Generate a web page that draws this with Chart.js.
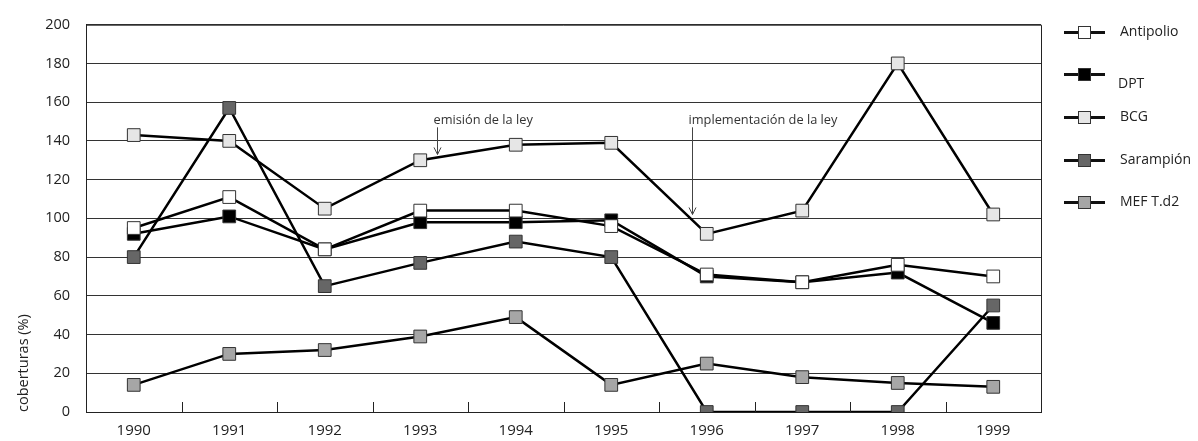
<!DOCTYPE html>
<html>
<head>
<meta charset="utf-8">
<script src="https://cdn.jsdelivr.net/npm/chart.js@4/dist/chart.umd.min.js"></script>
<style>
  body { margin: 0; background: #fff; font-family: "Open Sans", "Noto Sans", sans-serif; }
  #wrap { position: relative; width: 1198px; height: 441px; }
  #legend { position: absolute; left: 1064px; top: 0; }
  .item { position: absolute; left: 0; width: 134px; height: 20px; }
  .item .ln { position: absolute; left: 0; top: 9px; width: 41px; height: 3px; background: #111; }
  .item .sq { position: absolute; left: 14px; top: 4px; border: 1px solid #333; box-sizing: border-box; width: 13px; height: 13px; }
  .item .tx { position: absolute; left: 56px; top: -1px; font-size: 14px; color: #222; white-space: nowrap; }
</style>
</head>
<body>
<div id="wrap">
  <canvas id="chart" width="1198" height="441"></canvas>
  <div id="legend"></div>
</div>
<script>
// Coberturas de vacunación 1990-1999
const years = ['1990', '1991', '1992', '1993', '1994', '1995', '1996', '1997', '1998', '1999'];

const antipolio = [95, 111, 84, 104, 104, 96, 71, 67, 76, 70];
const dpt       = [92, 101, 84, 98, 98, 99, 70, 67, 72, 46];
const bcg       = [143, 140, 105, 130, 138, 139, 92, 104, 180, 102];
const sarampion = [80, 157, 65, 77, 88, 80, 0, 0, 0, 55];
const mef       = [14, 30, 32, 39, 49, 14, 25, 18, 15, 13];

const seriesNames  = ['Antipolio', 'DPT', 'BCG', 'Sarampión', 'MEF T.d2'];
const seriesData   = [antipolio, dpt, bcg, sarampion, mef];
const seriesColors = ['#ffffff', '#000000', '#e6e6e6', '#666666', '#a6a6a6'];

const yTicks = [0, 20, 40, 60, 80, 100, 120, 140, 160, 180, 200];

// notes: label, category index of arrow, arrow top / bottom value
const notes = [
  { text: 'emisión de la ley', x: 3.18, top: 147, bottom: 133 },
  { text: 'implementación de la ley', x: 5.85, top: 147, bottom: 102 }
];

const FONT = '"Open Sans", "Noto Sans", sans-serif';
Chart.defaults.font.family = FONT;

// ticks between categories + arrows with text
const extras = {
  id: 'extras',
  afterDatasetsDraw(chart) {
    const ctx = chart.ctx;
    const xs = chart.scales.x;
    const ys = chart.scales.y;
    const bottom = chart.chartArea.bottom;
    ctx.save();
    ctx.strokeStyle = '#222';
    ctx.lineWidth = 1;
    for (let i = 0; i < years.length - 1; i++) {
      const px = Math.round((xs.getPixelForValue(i) + xs.getPixelForValue(i + 1)) / 2) + 0.5;
      ctx.beginPath();
      ctx.moveTo(px, bottom);
      ctx.lineTo(px, bottom - 10);
      ctx.stroke();
    }
    ctx.font = '12.8px ' + FONT;
    ctx.fillStyle = '#333';
    ctx.strokeStyle = '#444';
    ctx.textBaseline = 'bottom';
    notes.forEach(n => {
      const i0 = Math.floor(n.x);
      const p0 = xs.getPixelForValue(i0);
      const p1 = xs.getPixelForValue(i0 + 1);
      const px = Math.round(p0 + (p1 - p0) * (n.x - i0)) + 0.5;
      const yt = ys.getPixelForValue(n.top);
      const yb = ys.getPixelForValue(n.bottom);
      ctx.fillText(n.text, px - 4, yt - 1);
      ctx.beginPath();
      ctx.moveTo(px, yt);
      ctx.lineTo(px, yb);
      ctx.moveTo(px - 3.5, yb - 7);
      ctx.lineTo(px, yb);
      ctx.lineTo(px + 3.5, yb - 7);
      ctx.stroke();
    });
    ctx.restore();
  }
};

new Chart(document.getElementById('chart'), {
  type: 'line',
  data: {
    labels: years,
    datasets: seriesNames.map((name, i) => ({
      label: name,
      data: seriesData[i],
      borderColor: '#000',
      borderWidth: 2.5,
      pointStyle: 'rect',
      pointRadius: 9,
      pointHoverRadius: 9,
      pointBackgroundColor: seriesColors[i],
      pointBorderColor: '#333',
      pointBorderWidth: 1,
      tension: 0
    }))
  },
  options: {
    responsive: false,
    animation: false,
    layout: { padding: { top: 24, right: 157, bottom: 0, left: 0 } },
    plugins: {
      legend: { display: false },
      tooltip: { enabled: false }
    },
    scales: {
      x: {
        offset: true,
        grid: { display: false, drawTicks: false },
        border: { color: '#222', width: 1 },
        ticks: { color: '#222', padding: 10, font: { size: 15 } },
        afterFit(scale) { scale.height = 29; }
      },
      y: {
        min: 0,
        max: 200,
        afterBuildTicks(scale) { scale.ticks = yTicks.map(v => ({ value: v })); },
        grid: { color: '#333', lineWidth: 1, drawTicks: false },
        border: { color: '#222', width: 1 },
        ticks: { color: '#222', padding: 16, font: { size: 14.5 } },
        title: {
          display: true,
          text: 'coberturas (%)',
          align: 'start',
          color: '#222',
          font: { size: 14.5 },
          padding: { top: 15, bottom: 0 }
        },
        afterFit(scale) { scale.width = 86; }
      }
    }
  },
  plugins: [extras, {
    id: 'frame',
    beforeDatasetsDraw(chart) {
      const a = chart.chartArea;
      const ctx = chart.ctx;
      ctx.save();
      ctx.strokeStyle = '#222';
      ctx.lineWidth = 1;
      ctx.beginPath();
      ctx.moveTo(a.left, a.top + 0.5);
      ctx.lineTo(a.right + 0.5, a.top + 0.5);
      ctx.lineTo(a.right + 0.5, a.bottom);
      ctx.stroke();
      ctx.restore();
    }
  }]
});

// legend: line through a square, as in the printed chart
const legendTops = [22, 64, 107, 150, 192];
const legend = document.getElementById('legend');
seriesNames.forEach((name, i) => {
  const el = document.createElement('div');
  el.className = 'item';
  el.style.top = legendTops[i] + 'px';
  el.innerHTML = '<div class="ln"></div><div class="sq" style="background:' + seriesColors[i] +
    '"></div><div class="tx"' + (i === 1 ? ' style="top:9px;left:54px"' : '') + '>' + name + '</div>';
  legend.appendChild(el);
});
</script>
</body>
</html>
